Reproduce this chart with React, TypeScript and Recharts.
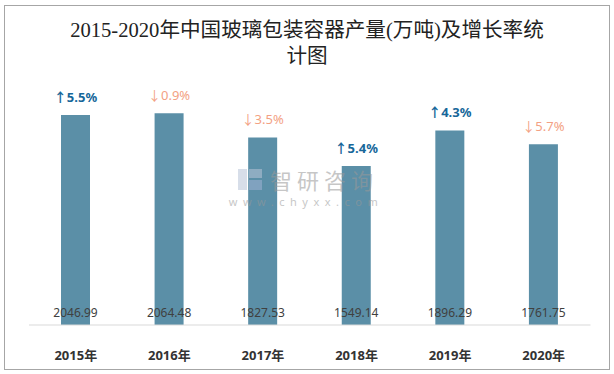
import React from "react";
import { Bar, BarChart, LabelList, XAxis, YAxis } from "recharts";

const years = ["2015年", "2016年", "2017年", "2018年", "2019年", "2020年"];
const output = [2046.99, 2064.48, 1827.53, 1549.14, 1896.29, 1761.75];
const growth = [5.5, -0.9, -3.5, 5.4, 4.3, -5.7];

const data = years.map((year, i) => ({ year, output: output[i], growth: growth[i] }));

const SANS = "'Noto Sans', 'Noto Sans CJK SC', sans-serif";
const UP = "#17679a";
const DOWN = "#f3a183";

function GrowthLabel(props: any) {
  const { x, y, width, index } = props;
  const g = growth[index];
  const up = g >= 0;
  return (
    <text
      x={x + width / 2}
      y={y - 18}
      textAnchor="middle"
      dominantBaseline="central"
      fontFamily={SANS}
      fontSize={13}
      fontWeight={up ? 700 : 400}
      fill={up ? UP : DOWN}
    >
      {(up ? "↑" : "↓") + Math.abs(g).toFixed(1) + "%"}
    </text>
  );
}

function ValueLabel(props: any) {
  const { x, width, value } = props;
  return (
    <text
      x={x + width / 2}
      y={312}
      textAnchor="middle"
      dominantBaseline="central"
      fontFamily={SANS}
      fontSize={12}
      fill="#404040"
    >
      {Number(value).toFixed(2)}
    </text>
  );
}

function YearTick(props: any) {
  const { x, y, payload } = props;
  return (
    <text
      x={x}
      y={y + 22}
      textAnchor="middle"
      dominantBaseline="central"
      fontFamily={SANS}
      fontSize={13}
      fontWeight={700}
      fill="#333"
    >
      {payload.value}
    </text>
  );
}

export default function App() {
  return (
    <div
      style={{
        position: "absolute",
        left: 0,
        top: 0,
        width: 614,
        height: 374,
        background: "#fff",
      }}
    >
      <div
        style={{
          position: "absolute",
          left: 4,
          top: 5,
          width: 604,
          height: 363,
          border: "1px solid #a6a6a6",
        }}
      />
      <div
        style={{
          position: "absolute",
          left: 0,
          top: 17,
          width: 614,
          textAlign: "center",
          fontFamily: "'Liberation Serif', 'Noto Sans CJK SC', serif",
          fontSize: 20.6,
          lineHeight: "26px",
          color: "#222",
        }}
      >
        2015-2020年中国玻璃包装容器产量(万吨)及增长率统
        <br />
        计图
      </div>
      <div style={{ position: "absolute", left: 0, top: 0 }}>
        <BarChart
          width={614}
          height={374}
          data={data}
          margin={{ top: 68.5, right: 23.5, left: 29, bottom: 19 }}
        >
          <XAxis
            dataKey="year"
            axisLine={{ stroke: "#d9d9d9" }}
            tickLine={false}
            height={30}
            tick={<YearTick />}
            interval={0}
          />
          <YAxis hide domain={[0, 2500]} />
          <Bar dataKey="output" fill="#5b8fa7" barSize={29} isAnimationActive={false}>
            <LabelList dataKey="output" content={<ValueLabel />} />
            <LabelList dataKey="growth" content={<GrowthLabel />} />
          </Bar>
        </BarChart>
      </div>
      <svg
        width={614}
        height={374}
        style={{ position: "absolute", left: 0, top: 0, pointerEvents: "none" }}
      >
        <g opacity={0.55}>
          <rect x={238} y={169} width={9} height={21} fill="#b8c4d8" />
          <rect x={249} y={169} width={13} height={9} fill="#b8c4d8" />
          <rect x={249} y={180} width={13} height={10} fill="#9fb3d3" />
          <text
            x={324}
            y={179}
            textAnchor="middle"
            dominantBaseline="central"
            fontFamily="'Noto Sans CJK SC', sans-serif"
            fontSize={22}
            letterSpacing={5}
            fill="#999"
          >
            智研咨询
          </text>
          <text
            x={306}
            y={201}
            textAnchor="middle"
            dominantBaseline="central"
            fontFamily={SANS}
            fontSize={11}
            letterSpacing={5.5}
            fill="#999"
          >
            www.chyxx.com
          </text>
        </g>
      </svg>
    </div>
  );
}
